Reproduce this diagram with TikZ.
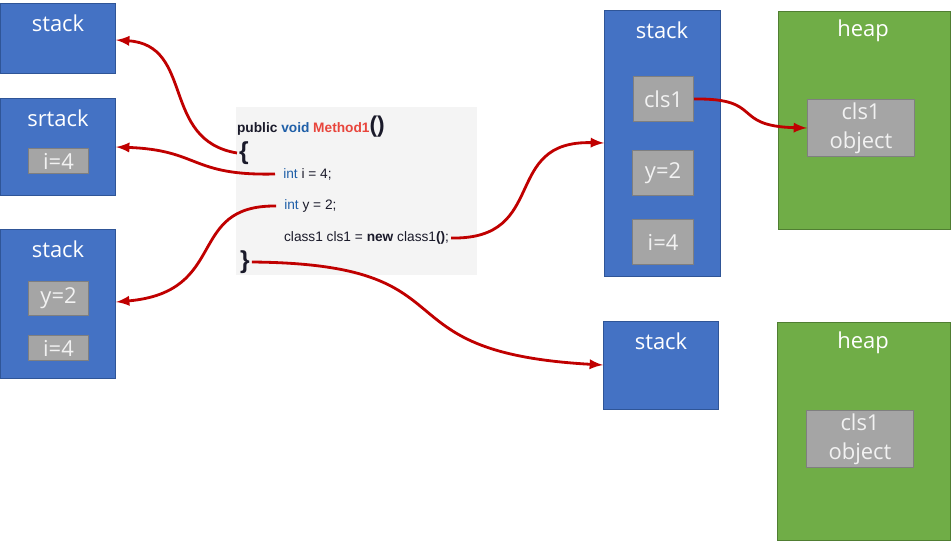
\documentclass[tikz,border=0pt]{standalone}
\usepackage{fontspec}
\setmainfont{Liberation Sans}
\newfontfamily\boxfont{Open Sans}
\usetikzlibrary{calc, positioning}

\definecolor{stackblue}{HTML}{4472C4}
\definecolor{stackline}{HTML}{2F5597}
\definecolor{heapgreen}{HTML}{70AD47}
\definecolor{heapline}{HTML}{507E32}
\definecolor{cellgray}{HTML}{A5A5A5}
\definecolor{cellline}{HTML}{7F7F7F}
\definecolor{codebg}{HTML}{F4F4F4}
\definecolor{arrowred}{HTML}{C00000}
\definecolor{kwblue}{HTML}{1F5FA8}
\definecolor{methred}{HTML}{E8453C}
\definecolor{codeblack}{HTML}{1A1A2A}

\tikzset{
  stackbox/.style={draw=stackline, fill=stackblue, line width=0.6pt, anchor=north west, inner sep=0pt},
  heapbox/.style={draw=heapline, fill=heapgreen, line width=0.6pt, anchor=north west, inner sep=0pt},
  cell/.style={draw=cellline, fill=cellgray, line width=0.6pt, anchor=north west, inner sep=0pt},
  boxlabel/.style={text=white, font=\boxfont\fontsize{12.5}{14}\selectfont, inner sep=1pt},
  celltxt/.style={text=white!95!black, font=\boxfont\fontsize{12.5}{16.5}\selectfont, align=center, inner sep=1pt},
  codetxt/.style={text=codeblack, font=\fontsize{7.8}{9}\selectfont, anchor=west, inner sep=1pt},
  conn/.style={->, draw=arrowred, line width=1.6pt}
}

\begin{document}
\begin{tikzpicture}[>=latex, x=0.02cm, y=-0.02cm]
  \useasboundingbox (0,0) rectangle (952,541);

  % left side: stack frames
  \node [stackbox, minimum width=2.3cm, minimum height=1.4cm] (stackA) at (0,3) {};
  \node [boxlabel] (stackAl) at (58,23) {stack};

  \node [stackbox, minimum width=2.3cm, minimum height=1.94cm] (stackB) at (0,98) {};
  \node [boxlabel] (stackBl) at (58,118) {srtack};
  \node [cell, minimum width=1.2cm, minimum height=0.5cm] (bi) at (28,148) {};
  \node [celltxt] at (bi.center) {i=4};

  \node [stackbox, minimum width=2.3cm, minimum height=2.98cm] (stackC) at (0,229) {};
  \node [boxlabel] (stackCl) at (58,249) {stack};
  \node [cell, minimum width=1.2cm, minimum height=0.68cm] (cy) at (28,281) {};
  \node [celltxt] at (cy.center) {y=2};
  \node [cell, minimum width=1.2cm, minimum height=0.5cm] (ci) at (28,335) {};
  \node [celltxt] at (ci.center) {i=4};

  % the method
  \node [fill=codebg, anchor=north west, minimum width=4.82cm, minimum height=3.36cm, inner sep=0pt] (code) at (236,107) {};
  \node [codetxt] (sig) at (235,127) {\textbf{public {\color{kwblue}void} {\color{methred}Method1}}{\fontsize{13}{13}\selectfont\textbf{()}}};
  \node [codetxt, font=\fontsize{14}{14}\selectfont\bfseries] (lbrace) at (237,153) {\{};
  \node [codetxt] (linei) at (275,174) {\hspace{3.5pt}{\color{kwblue}int} i = 4;};
  \node [codetxt] (liney) at (276,206) {\hspace{3.5pt}{\color{kwblue}int} y = 2;};
  \node [codetxt] (linecls) at (282,238) {class1 cls1 = \textbf{new} class1\textbf{()};};
  \node [codetxt, font=\fontsize{14}{14}\selectfont\bfseries] (rbrace) at (238,262) {\}};

  % right side: stack and heap
  \node [stackbox, minimum width=2.32cm, minimum height=5.32cm] (stackD) at (604,10) {};
  \node [boxlabel] (stackDl) at (662,30) {stack};
  \node [cell, minimum width=1.2cm, minimum height=0.9cm] (dcls) at (633,76) {};
  \node [celltxt] at (dcls.center) {cls1};
  \node [cell, minimum width=1.22cm, minimum height=0.9cm] (dy) at (632,150) {};
  \node [celltxt] at (dy.center) {y=2};
  \node [cell, minimum width=1.22cm, minimum height=0.9cm] (di) at (632,219) {};
  \node [celltxt] at (di.center) {i=4};

  \node [heapbox, minimum width=3.44cm, minimum height=4.36cm] (heapA) at (778,11) {};
  \node [boxlabel] (heapAl) at (863,31) {heap};
  \node [cell, minimum width=2.14cm, minimum height=1.14cm] (objA) at (807,99) {};
  \node [celltxt] at (objA.center) {cls1\\object};

  \node [stackbox, minimum width=2.3cm, minimum height=1.76cm] (stackE) at (603,321) {};
  \node [boxlabel] (stackEl) at (661,341) {stack};

  \node [heapbox, minimum width=3.46cm, minimum height=4.36cm] (heapB) at (777,322) {};
  \node [boxlabel] (heapBl) at (863,343) {heap};
  \node [cell, minimum width=2.14cm, minimum height=1.14cm] (objB) at (806,410) {};
  \node [celltxt] at (objB.center) {cls1\\object};

  % connectors
  \draw [conn] (lbrace.west) .. controls (160,140) and (195,45) .. (stackA.east |- 0,40);
  \draw [conn] (linei.west) .. controls (190,176) and (200,150) .. (stackB.east |- 0,147);
  \draw [conn] (liney.west) .. controls (185,205) and (230,292) .. (stackC.east |- 0,302);
  \draw [conn] (linecls.east) .. controls (550,240) and (500,140) .. (stackD.west |- 0,143);
  \draw [conn] (rbrace.east) .. controls (480,264) and (370,352) .. (stackE.west |- 0,365);
  \draw [conn] (dcls.east) .. controls (765,98) and (730,126) .. (objA.west |- 0,128);
\end{tikzpicture}
\end{document}
